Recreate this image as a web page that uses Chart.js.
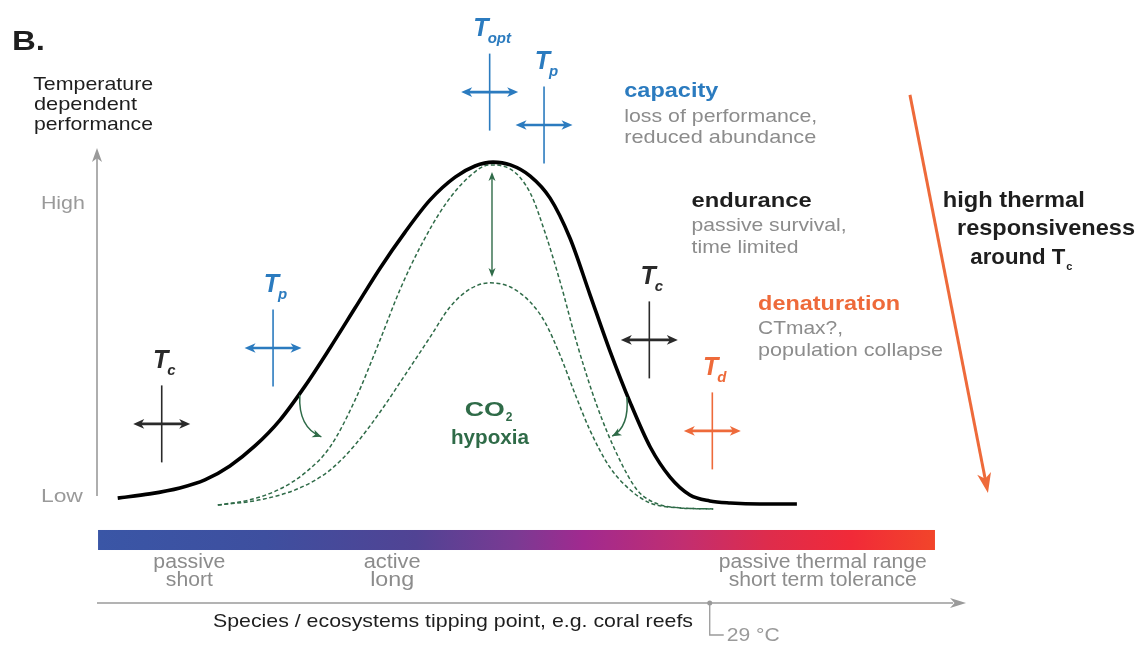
<!DOCTYPE html>
<html><head><meta charset="utf-8">
<script src="https://cdn.jsdelivr.net/npm/chart.js@4/dist/chart.umd.min.js"></script>
<style>html,body{margin:0;padding:0;background:#fff}#c{display:block}</style>
</head><body>
<canvas id="c" width="1146" height="650"></canvas>
<script>
// ---------- DATA (x: temperature index 0-100, y: performance 0-100) ----------
const perfTemp = [2.4, 6.1, 9.6, 12.5, 15.4, 18.3, 21.2, 24.1, 27.0, 29.9, 32.8, 35.7, 38.6, 41.5, 43.8, 45.9, 47.9, 50.2, 52.5, 54.8, 57.1, 59.4, 61.8, 64.1, 66.4, 68.7, 71.0, 73.4, 76.8, 81.1];
const perfValue = [3.4, 4.6, 6.3, 8.6, 12.6, 18.3, 25.7, 35.4, 46.3, 57.7, 69.1, 79.4, 88.6, 95.1, 98.3, 99.4, 98.6, 95.4, 89.1, 77.7, 61.7, 45.7, 30.6, 18.0, 9.4, 4.3, 2.6, 2.0, 1.7, 1.7];

const co2Temp = [14.0, 17.7, 21.2, 24.1, 27.0, 29.9, 32.8, 35.1, 37.4, 40.3, 43.2, 45.5, 47.9, 50.2, 51.9, 53.7, 55.6, 57.9, 60.3, 62.6, 64.7, 67.6, 71.4];
const co2Value = [1.4, 2.9, 6.0, 10.6, 18.0, 31.4, 48.6, 62.9, 74.9, 87.1, 95.4, 98.6, 97.4, 90.6, 79.4, 64.9, 47.7, 30.0, 15.7, 5.7, 2.0, 0.6, 0.3];

const hypoxiaTemp = [14.0, 18.9, 23.5, 27.0, 29.9, 32.8, 35.7, 38.6, 40.9, 43.2, 45.5, 47.9, 50.2, 51.9, 53.7, 55.4, 57.1, 59.4, 61.8, 64.1, 67.6, 71.4];
const hypoxiaValue = [1.4, 2.9, 6.3, 11.4, 18.6, 28.0, 38.6, 49.4, 58.0, 63.1, 64.9, 63.7, 59.4, 53.7, 44.0, 33.1, 22.9, 12.3, 5.7, 2.0, 0.6, 0.3];

const yTickLabels = ['Low', 'High'];
const yTickValues = [4.3, 88.0];

// thresholds: name, subscript, temperature, performance level of marker
const thrName = ['T', 'T', 'T', 'T', 'T', 'T'];
const thrSub = ['opt', 'p', 'c', 'd', 'p', 'c'];
const thrTemp = [45.5, 51.8, 64.0, 71.3, 20.4, 7.5];
const thrLevel = [119.4, 110.0, 48.6, 22.6, 46.3, 24.6];
const thrKind = ['blue', 'blue', 'black', 'orange', 'blue', 'black'];

const bandLabels = [['passive', 'short'], ['active', 'long'], ['passive thermal range', 'short term tolerance']];
const bandCenters = [10.7, 34.2, 84.1];
const tippingTemp = 71.0;
const tippingLabel = '29 \u00B0C';

// ---------- STYLE ----------
const COL = { blue: '#2b7bbf', black: '#2a2a2a', orange: '#ee6a3a', green: '#2f6b48', gray: '#8c8c8c', axis: '#9a9a9a', dark: '#1e1e1e' };
const F = 'Liberation Sans, Arial, Helvetica, sans-serif';

function txt(ctx, s, x, y, o) {
  ctx.save();
  ctx.font = o.font; ctx.fillStyle = o.color; ctx.textBaseline = 'alphabetic'; ctx.textAlign = 'left';
  const nw = ctx.measureText(s).width;
  const w = o.w || nw;
  const sx = w / nw;
  const left = o.align === 'center' ? x - w / 2 : x;
  ctx.translate(left, y); ctx.scale(sx, 1); ctx.fillText(s, 0, 0);
  ctx.restore();
  return w;
}
function head(ctx, tx, ty, ang, len, hw, color) {
  const c = Math.cos(ang), s = Math.sin(ang);
  const bx = tx - len * c, by = ty - len * s;
  const nx = tx - len * 0.72 * c, ny = ty - len * 0.72 * s;
  ctx.save(); ctx.fillStyle = color; ctx.beginPath();
  ctx.moveTo(tx, ty);
  ctx.lineTo(bx - hw * s, by + hw * c);
  ctx.lineTo(nx, ny);
  ctx.lineTo(bx + hw * s, by - hw * c);
  ctx.closePath(); ctx.fill(); ctx.restore();
}
function line(ctx, x1, y1, x2, y2, color, w) {
  ctx.save(); ctx.strokeStyle = color; ctx.lineWidth = w; ctx.beginPath();
  ctx.moveTo(x1, y1); ctx.lineTo(x2, y2); ctx.stroke(); ctx.restore();
}

const diagram = {
  id: 'diagram',
  afterDatasetsDraw(chart) {
    const ctx = chart.ctx, xs = chart.scales.x, ys = chart.scales.y;
    const X = v => xs.getPixelForValue(v), Y = v => ys.getPixelForValue(v);

    // panel letter and axis title
    txt(ctx, 'B.', X(-9.85), Y(131.4), { font: 'bold 27px ' + F, color: COL.dark, w: 33 });
    txt(ctx, 'Temperature', X(-7.4), Y(120.0), { font: '19px ' + F, color: COL.dark, w: 120 });
    txt(ctx, 'dependent', X(-7.3), Y(114.3), { font: '19px ' + F, color: COL.dark, w: 103 });
    txt(ctx, 'performance', X(-7.3), Y(108.6), { font: '19px ' + F, color: COL.dark, w: 119 });

    // y axis with arrow
    line(ctx, X(0), Y(4.0), X(0), Y(102), COL.axis, 1.6);
    head(ctx, X(0), Y(103.4), -Math.PI / 2, 14, 5, COL.axis);
    yTickLabels.forEach((t, i) => txt(ctx, t, X(-6.5), Y(yTickValues[i]) + 7, { font: '18px ' + F, color: COL.axis, w: t === 'Low' ? 42 : 44 }));

    // thresholds (crosshairs with double arrows)
    thrTemp.forEach((tv, i) => {
      const cx = X(tv), cy = Y(thrLevel[i]);
      const col = COL[thrKind[i]];
      line(ctx, cx, cy - 38.5, cx, cy + 38.5, col, 1.6);
      line(ctx, cx - 22, cy, cx + 22, cy, col, 2.6);
      head(ctx, cx - 28.5, cy, Math.PI, 11, 4.8, col);
      head(ctx, cx + 28.5, cy, 0, 11, 4.8, col);
      ctx.save();
      ctx.font = 'bold italic 25px ' + F; const wT = ctx.measureText(thrName[i]).width;
      ctx.font = 'bold italic 15px ' + F; const wS = ctx.measureText(thrSub[i]).width;
      ctx.restore();
      const left = cx + 3 - (wT + wS) / 2;
      txt(ctx, thrName[i], left, cy - 56, { font: 'bold italic 25px ' + F, color: col });
      txt(ctx, thrSub[i], left + wT - 1, cy - 49, { font: 'bold italic 15px ' + F, color: col });
    });

    // right-hand descriptions
    txt(ctx, 'capacity', X(61.1), Y(118.0), { font: 'bold 21px ' + F, color: COL.blue, w: 94 });
    txt(ctx, 'loss of performance,', X(61.1), Y(110.9), { font: '19px ' + F, color: COL.gray, w: 193 });
    txt(ctx, 'reduced abundance', X(61.1), Y(104.9), { font: '19px ' + F, color: COL.gray, w: 192 });
    txt(ctx, 'endurance', X(68.9), Y(86.6), { font: 'bold 21px ' + F, color: COL.dark, w: 120 });
    txt(ctx, 'passive survival,', X(68.9), Y(79.7), { font: '19px ' + F, color: COL.gray, w: 155 });
    txt(ctx, 'time limited', X(68.9), Y(73.4), { font: '19px ' + F, color: COL.gray, w: 107 });
    txt(ctx, 'denaturation', X(76.6), Y(57.1), { font: 'bold 21px ' + F, color: COL.orange, w: 142 });
    txt(ctx, 'CTmax?,', X(76.6), Y(50.3), { font: '19px ' + F, color: COL.gray, w: 85 });
    txt(ctx, 'population collapse', X(76.6), Y(44.0), { font: '19px ' + F, color: COL.gray, w: 185 });

    // high thermal responsiveness
    txt(ctx, 'high thermal', X(98.0), Y(86.6), { font: 'bold 22px ' + F, color: COL.dark, w: 142 });
    txt(ctx, 'responsiveness', X(99.65), Y(78.6), { font: 'bold 22px ' + F, color: COL.dark, w: 178 });
    const wa = txt(ctx, 'around T', X(101.2), Y(70.3), { font: 'bold 22px ' + F, color: COL.dark, w: 95 });
    txt(ctx, 'c', X(101.2) + wa + 1, Y(70.3) + 6, { font: 'bold 11px ' + F, color: COL.dark });

    // orange trend arrow
    const ox1 = X(94.2), oy1 = Y(118.6), ox2 = X(103.24), oy2 = Y(4.86);
    const oa = Math.atan2(oy2 - oy1, ox2 - ox1);
    line(ctx, ox1, oy1, ox2 - 12 * Math.cos(oa), oy2 - 12 * Math.sin(oa), COL.orange, 3);
    head(ctx, ox2, oy2, oa, 20, 7, COL.orange);

    // green arrows
    const gx = X(45.77);
    line(ctx, gx, Y(95.0), gx, Y(68.2), COL.green, 1.4);
    head(ctx, gx, Y(96.6), -Math.PI / 2, 9, 3.5, COL.green);
    head(ctx, gx, Y(66.6), Math.PI / 2, 9, 3.5, COL.green);
    function curved(sx, sy, cxp, cyp, ex, ey) {
      ctx.save(); ctx.strokeStyle = COL.green; ctx.lineWidth = 1.5; ctx.beginPath();
      ctx.moveTo(sx, sy); ctx.quadraticCurveTo(cxp, cyp, ex, ey); ctx.stroke(); ctx.restore();
      head(ctx, ex, ey, Math.atan2(ey - cyp, ex - cxp), 9, 4, COL.green);
    }
    curved(X(23.5), Y(32.9), X(23.3), Y(23.5), X(26.0), Y(20.9));
    curved(X(61.4), Y(32.3), X(61.7), Y(23.8), X(59.7), Y(21.1));

    // CO2 / hypoxia
    const wco = txt(ctx, 'CO', X(42.6), Y(26.9), { font: 'bold 21px ' + F, color: COL.green, w: 40 });
    txt(ctx, '2', X(42.6) + wco + 1, Y(26.9) + 5, { font: 'bold 12px ' + F, color: COL.green });
    txt(ctx, 'hypoxia', X(45.54), Y(18.9), { font: 'bold 21px ' + F, color: COL.green, w: 78, align: 'center' });

    // colour band
    const bl = X(0.12), br = X(97.1), bt = Y(-5.71), bb = Y(-11.43);
    const g = ctx.createLinearGradient(bl, 0, br, 0);
    g.addColorStop(0, '#3a56a6'); g.addColorStop(0.2, '#3e4f9f'); g.addColorStop(0.38, '#514394');
    g.addColorStop(0.5, '#7b3a93'); g.addColorStop(0.58, '#a12a8f'); g.addColorStop(0.7, '#c22e70');
    g.addColorStop(0.8, '#de2c4c'); g.addColorStop(0.9, '#f12a38'); g.addColorStop(1, '#f2452a');
    ctx.save(); ctx.fillStyle = g; ctx.fillRect(bl, bt, br - bl, bb - bt); ctx.restore();
    const bandW = [[72, 47], [57, 44], [208, 188]];
    bandLabels.forEach((ls, i) => ls.forEach((s, j) => txt(ctx, s, X(bandCenters[i]), Y(-16.6) + j * 18,
      { font: '20px ' + F, color: COL.gray, w: bandW[i][j], align: 'center' })));

    // x axis with arrow
    const ay = Y(-26.57);
    line(ctx, X(0), ay, X(99.2), ay, COL.axis, 1.6);
    head(ctx, X(100.7), ay, 0, 16, 5, COL.axis);
    txt(ctx, 'Species / ecosystems tipping point, e.g. coral reefs', X(13.44), Y(-33.43), { font: '19px ' + F, color: COL.dark, w: 480 });
    const tx = X(tippingTemp);
    ctx.save(); ctx.fillStyle = COL.axis; ctx.beginPath(); ctx.arc(tx, ay, 2.5, 0, Math.PI * 2); ctx.fill(); ctx.restore();
    ctx.save(); ctx.strokeStyle = COL.axis; ctx.lineWidth = 1.3; ctx.beginPath();
    ctx.moveTo(tx, ay); ctx.lineTo(tx, ay + 32); ctx.lineTo(tx + 14, ay + 32); ctx.stroke(); ctx.restore();
    txt(ctx, tippingLabel, tx + 17, ay + 38, { font: '18px ' + F, color: COL.axis, w: 53 });
  }
};

const toPts = (xs, ys) => xs.map((x, i) => ({ x, y: ys[i] }));

new Chart(document.getElementById('c'), {
  type: 'scatter',
  data: {
    datasets: [
      { data: toPts(perfTemp, perfValue), showLine: true, borderColor: '#000', borderWidth: 3.6, pointRadius: 0, cubicInterpolationMode: 'monotone', clip: false },
      { data: toPts(co2Temp, co2Value), showLine: true, borderColor: COL.green, borderWidth: 1.5, borderDash: [4, 2.5], pointRadius: 0, cubicInterpolationMode: 'monotone', clip: false },
      { data: toPts(hypoxiaTemp, hypoxiaValue), showLine: true, borderColor: COL.green, borderWidth: 1.5, borderDash: [4, 2.5], pointRadius: 0, cubicInterpolationMode: 'monotone', clip: false }
    ]
  },
  options: {
    responsive: false, animation: false, devicePixelRatio: 1,
    layout: { padding: { left: 97, right: 186, top: 160, bottom: 140 } },
    scales: {
      x: { type: 'linear', min: 0, max: 100, display: false },
      y: { type: 'linear', min: 0, max: 100, display: false }
    },
    plugins: { legend: { display: false }, tooltip: { enabled: false } },
    events: []
  },
  plugins: [diagram]
});
</script>
</body></html>
